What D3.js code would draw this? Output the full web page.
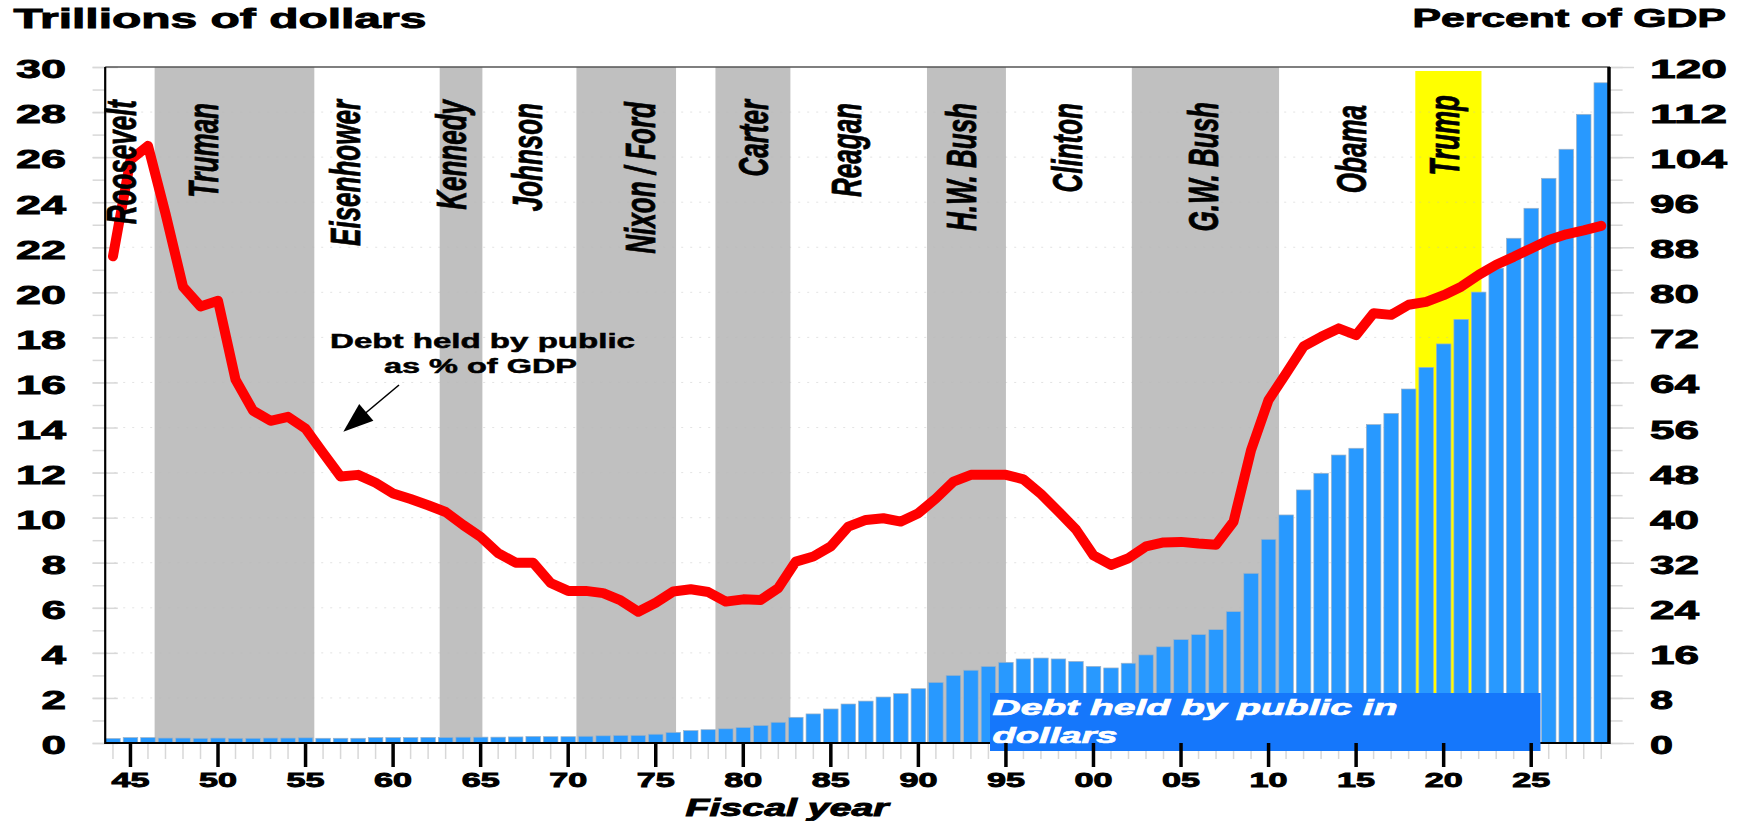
<!DOCTYPE html>
<html><head><meta charset="utf-8">
<script src="https://cdn.jsdelivr.net/npm/d3@7"></script>
<style>
body{margin:0;background:#fff}
svg{display:block}
text{font-family:"Liberation Sans",Arial,Helvetica,sans-serif;font-weight:bold}
</style>
</head><body>
<svg id="c" width="1742" height="821"></svg>
<script>
// ---------------- DATA ----------------
const firstYear = 1944, lastYear = 2029;
const years = d3.range(firstYear, lastYear + 1);

// Debt held by public, trillions of dollars (bars)
const debtDollars = [
  0.20,0.24,0.24,0.22,0.22,0.21,0.22,0.21,0.21,0.22, // 1944-1953
  0.22,0.23,0.21,0.21,0.21,0.24,0.24,0.24,0.25,0.25, // 1954-1963
  0.26,0.26,0.26,0.27,0.29,0.28,0.28,0.30,0.32,0.34, // 1964-1973
  0.34,0.39,0.47,0.55,0.59,0.63,0.69,0.78,0.92,1.14, // 1974-1983
  1.29,1.51,1.73,1.86,2.04,2.19,2.41,2.69,3.00,3.23, // 1984-1993
  3.40,3.58,3.73,3.77,3.73,3.62,3.40,3.33,3.54,3.91, // 1994-2003
  4.27,4.59,4.81,5.03,5.83,7.53,9.04,10.12,11.23,11.97, // 2004-2013
  12.78,13.08,14.13,14.63,15.71,16.67,17.71,18.80,20.01,21.07, // 2014-2023
  22.40,23.73,25.06,26.35,27.90,29.30 // 2024-2029
];

// Debt held by public as % of GDP (red line)
const debtPctGDP = [
  86.4,103.5,106.0,94.0,81.0,77.5,78.5,64.5,59.0,57.2, // 1944-1953
  57.9,55.8,51.5,47.3,47.6,46.2,44.3,43.3,42.2,41.0,   // 1954-1963
  38.7,36.6,33.7,32.0,32.0,28.4,27.0,27.0,26.6,25.3,   // 1964-1973
  23.3,24.9,26.9,27.3,26.8,25.1,25.5,25.4,27.5,32.2,   // 1974-1983
  33.1,34.9,38.4,39.6,39.9,39.3,40.8,43.4,46.4,47.6,   // 1984-1993
  47.6,47.6,46.8,44.2,41.1,37.9,33.3,31.6,32.8,34.9,   // 1994-2003
  35.6,35.7,35.4,35.2,39.3,52.0,60.9,65.6,70.4,72.1,   // 2004-2013
  73.6,72.4,76.3,76.0,77.8,78.3,79.5,81.0,83.1,84.9,   // 2014-2023
  86.3,87.8,89.3,90.3,91.0,91.8                        // 2024-2029
];

// Presidencies (in fiscal-year units as drawn) and shading
const presNames  = ["Roosevelt","Truman","Eisenhower","Kennedy","Johnson","Nixon / Ford","Carter","Reagan","H.W. Bush","Clinton","G.W. Bush","Obama","Trump"];
const presStart  = [1943.5,1946.38,1955.5,1962.66,1965.1,1970.47,1978.41,1982.69,1990.49,1995.0,2002.19,2010.6,2018.38];
const presEnd    = [1946.38,1955.5,1962.66,1965.1,1970.47,1976.16,1982.69,1990.49,1995.0,2002.19,2010.6,2018.38,2022.16];
const presShade  = ["none","gray","none","gray","none","gray","gray","none","gray","none","gray","none","yellow"];

// Axis ticks
const leftTicks  = d3.range(0, 31, 2);
const rightTicks = d3.range(0, 121, 8);
const yearTicks  = [1945,1950,1955,1960,1965,1970,1975,1980,1985,1990,1995,2000,2005,2010,2015,2020,2025];

// ---------------- LAYOUT ----------------
const L = 105.2, R = 1610, T = 67, B = 743;
const presLabelYear = [1945.33,1950.02,1958.11,1964.18,1968.50,1974.95,1981.40,1986.71,1993.31,1999.36,2007.10,2015.58,2020.89];
const presLabelTop  = [100,103,100,100,103,102,100,103,103,103,102,105,95];

const svg = d3.select("#c");
svg.append("rect").attr("width",1742).attr("height",821).attr("fill","#fff");

const x = d3.scaleBand().domain(years).range([104.2, R]).paddingInner(0.17).paddingOuter(0.085);
const xc = y => x(y) + x.bandwidth()/2;
const xr = d3.scaleLinear().domain([firstYear, lastYear]).range([xc(firstYear), xc(lastYear)]);
const yL = d3.scaleLinear().domain([0,30]).range([B,T]);
const yR = d3.scaleLinear().domain([0,120]).range([B,T]);

const heavy = sel => sel.attr("stroke","#000").attr("stroke-width",0.9).attr("paint-order","stroke");

// shading bands
const pres = presNames.map((n,i)=>({name:n,s:presStart[i],e:presEnd[i],shade:presShade[i],ly:presLabelYear[i],top:presLabelTop[i]}));
svg.append("g").selectAll("rect").data(pres.filter(d=>d.shade!=="none")).join("rect")
  .attr("x", d=>Math.max(L, xr(d.s)))
  .attr("width", d=>xr(d.e)-Math.max(L,xr(d.s)))
  .attr("y", d=>d.shade==="yellow"? 71 : T)
  .attr("height", d=>B-(d.shade==="yellow"?71:T))
  .attr("fill", d=>d.shade==="yellow"?"#FFFF00":"#C0C0C0");

// faint dotted gridlines
svg.append("g").selectAll("line").data(leftTicks.filter(v=>v>0&&v<30)).join("line")
  .attr("x1",L).attr("x2",R).attr("y1",d=>yL(d)).attr("y2",d=>yL(d))
  .attr("stroke","rgba(185,185,185,0.4)").attr("stroke-width",1).attr("stroke-dasharray","2,7");

// bars
svg.append("g").selectAll("rect").data(years.map((y,i)=>({y,v:debtDollars[i]}))).join("rect")
  .attr("x", d=>x(d.y)).attr("width", x.bandwidth())
  .attr("y", d=>yL(d.v)).attr("height", d=>B-yL(d.v))
  .attr("fill","#2899FF").attr("stroke","#9fb3c6").attr("stroke-width",0.7);

// ---- axes: left
const gL = svg.append("g").attr("transform",`translate(${L},0)`);
gL.call(d3.axisLeft(yL).tickValues(d3.range(0,31)).tickSize(12.6).tickFormat(""));
gL.select(".domain").remove();
gL.selectAll("line").attr("stroke","#d8d8d8").attr("stroke-width",1.5);
const gL2 = svg.append("g").attr("transform",`translate(${L},0)`);
gL2.call(d3.axisLeft(yL).tickValues(leftTicks).tickSize(12.6).tickFormat(d=>String(d)));
gL2.select(".domain").remove();
gL2.selectAll("line").attr("x1",12.6).attr("stroke","#d8d8d8").attr("stroke-width",1.5);
gL2.selectAll("text").each(function(d){
  const w = d<10 ? 24.5 : 50;
  d3.select(this).attr("text-anchor","start").attr("x",(66-L)-w).attr("dy",null).attr("y",10.8)
    .attr("font-size",26).attr("font-family",null).attr("fill","#000")
    .attr("textLength",w).attr("lengthAdjust","spacingAndGlyphs").call(heavy);
});

// ---- axes: right
const gR = svg.append("g").attr("transform",`translate(${R},0)`);
gR.call(d3.axisRight(yR).tickValues(d3.range(0,121,4)).tickSize(12.6).tickFormat(""));
gR.select(".domain").remove();
gR.selectAll("line").attr("stroke","#d8d8d8").attr("stroke-width",1.5);
const gR2 = svg.append("g").attr("transform",`translate(${R},0)`);
gR2.call(d3.axisRight(yR).tickValues(rightTicks).tickSize(24).tickFormat(d=>String(d)));
gR2.select(".domain").remove();
gR2.selectAll("line").attr("stroke","#d8d8d8").attr("stroke-width",1.5);
gR2.selectAll("text").each(function(d){
  const w = d<10 ? 23 : (d<100 ? 49 : 77);
  d3.select(this).attr("text-anchor","start").attr("x",1650-R).attr("dy",null).attr("y",10.5)
    .attr("font-size",26).attr("font-family",null).attr("fill","#000")
    .attr("textLength",w).attr("lengthAdjust","spacingAndGlyphs").call(heavy);
});

// ---- x axis minor ticks
const gXm = svg.append("g").attr("transform",`translate(0,${B})`);
gXm.call(d3.axisBottom(x).tickValues(years).tickSize(16).tickFormat(""));
gXm.select(".domain").remove();
gXm.selectAll("line").attr("stroke","#d8d8d8").attr("stroke-width",1.5);

// frame lines
svg.append("line").attr("x1",L).attr("x2",R).attr("y1",T).attr("y2",T).attr("stroke","#555").attr("stroke-width",1.5);
svg.append("line").attr("x1",L).attr("x2",L).attr("y1",T).attr("y2",B+1).attr("stroke","#000").attr("stroke-width",2.2);
svg.append("line").attr("x1",L).attr("x2",R).attr("y1",B).attr("y2",B).attr("stroke","#000").attr("stroke-width",2);
svg.append("line").attr("x1",R-1).attr("x2",R-1).attr("y1",T).attr("y2",B+1).attr("stroke","#000").attr("stroke-width",3.5);

// red line
svg.append("path").datum(years.map((y,i)=>({y,v:debtPctGDP[i]})))
  .attr("d", d3.line().x(d=>xc(d.y)).y(d=>yR(d.v)))
  .attr("fill","none").attr("stroke","#FF0000").attr("stroke-width",10)
  .attr("stroke-linejoin","round").attr("stroke-linecap","round");

// president labels
svg.append("g").selectAll("text").data(pres).join("text")
  .attr("transform", d=>`translate(${xr(d.ly)},${d.top}) rotate(-90) scale(1,1.62)`)
  .attr("text-anchor","end").attr("font-size",26).attr("font-style","italic").attr("fill","#000")
  .attr("stroke","#000").attr("stroke-width",0.5)
  .text(d=>d.name);

// annotation box "Debt held by public in dollars"
const boxX0 = 990, boxX1 = 1540.5;
svg.append("rect").attr("x",boxX0).attr("y",693).attr("width",boxX1-boxX0).attr("height",58).attr("fill","#1577FB");
svg.append("text").attr("x",992.5).attr("y",715).attr("font-size",22).attr("font-style","italic").attr("fill","#fff")
  .attr("stroke","#fff").attr("stroke-width",0.7)
  .attr("textLength",405).attr("lengthAdjust","spacingAndGlyphs").text("Debt held by public in");
svg.append("text").attr("x",992.5).attr("y",742.5).attr("font-size",22).attr("font-style","italic").attr("fill","#fff")
  .attr("stroke","#fff").attr("stroke-width",0.7)
  .attr("textLength",125).attr("lengthAdjust","spacingAndGlyphs").text("dollars");

// ---- x axis major ticks + labels (over the box)
const gX = svg.append("g").attr("transform",`translate(0,${B})`);
gX.call(d3.axisBottom(x).tickValues(yearTicks).tickSize(24).tickFormat(d=>String(d%100).padStart(2,"0")));
gX.select(".domain").remove();
gX.selectAll("line").attr("stroke","#000").attr("stroke-width",3.5);
gX.selectAll("text").each(function(){
  d3.select(this).attr("text-anchor","start").attr("x",-19).attr("dy",null).attr("y",44)
    .attr("font-size",21).attr("font-family",null).attr("fill","#000")
    .attr("textLength",38).attr("lengthAdjust","spacingAndGlyphs").call(heavy);
});

// titles
svg.append("text").attr("x",13.4).attr("y",28.3).attr("font-size",28).attr("fill","#000")
  .attr("textLength",413).attr("lengthAdjust","spacingAndGlyphs").text("Trillions of dollars").call(heavy);
svg.append("text").attr("x",1412.4).attr("y",26.7).attr("font-size",26).attr("fill","#000")
  .attr("textLength",313.6).attr("lengthAdjust","spacingAndGlyphs").text("Percent of GDP").call(heavy);
svg.append("text").attr("x",685.6).attr("y",815.5).attr("font-size",23).attr("font-style","italic").attr("fill","#000")
  .attr("textLength",203).attr("lengthAdjust","spacingAndGlyphs").text("Fiscal year").call(heavy);

// line annotation
svg.append("text").attr("x",330).attr("y",348.3).attr("font-size",20).attr("fill","#000")
  .attr("textLength",305).attr("lengthAdjust","spacingAndGlyphs").text("Debt held by public")
  .attr("stroke","#000").attr("stroke-width",0.5);
svg.append("text").attr("x",384).attr("y",372.5).attr("font-size",20).attr("fill","#000")
  .attr("textLength",193).attr("lengthAdjust","spacingAndGlyphs").text("as % of GDP")
  .attr("stroke","#000").attr("stroke-width",0.5);
svg.append("line").attr("x1",399).attr("y1",385).attr("x2",362).attr("y2",416).attr("stroke","#000").attr("stroke-width",1.6);
svg.append("path").attr("d","M343.3,431.7 L359.2,404 L373.4,420.8 Z").attr("fill","#000");
</script>
</body></html>
